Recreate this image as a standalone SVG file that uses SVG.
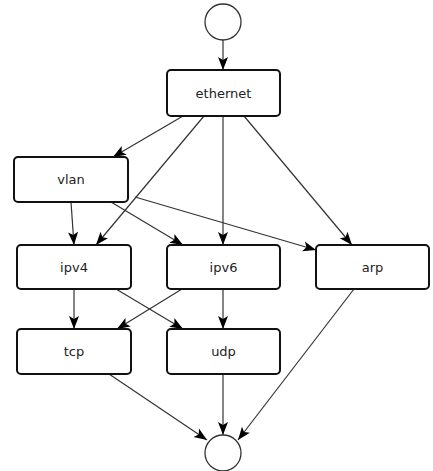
<svg xmlns="http://www.w3.org/2000/svg" width="433" height="471" viewBox="0 0 433 471">
<defs>
<style>
.node rect{fill:#fff;stroke:#111;stroke-width:2}
.node circle{fill:#fff;stroke:#333;stroke-width:1.3}
.node text{font-family:"DejaVu Sans",sans-serif;font-size:13px;fill:#222;text-anchor:middle}
.edges path{fill:none;stroke:#333;stroke-width:1.2;marker-end:url(#arr)}
</style>
<marker id="arr" markerUnits="userSpaceOnUse" markerWidth="14" markerHeight="12" viewBox="0 0 14 12" refX="13" refY="6" orient="auto">
<path d="M0,1 L13,6 L0,11 L3,6 z" fill="#000"/>
</marker>
</defs>
<g class="edges" id="edges">
<path d="M223,40 L223,70"/>
<path d="M183,116 L113,157"/>
<path d="M204,116 L96,245"/>
<path d="M223,116 L223,245"/>
<path d="M244,116 L352,245"/>
<path d="M71,202 L74,245"/>
<path d="M111,202 L183,245"/>
<path d="M135,197 L316,250"/>
<path d="M74,289 L74,329"/>
<path d="M116,289 L183,329"/>
<path d="M182,289 L117,329"/>
<path d="M223,289 L223,329"/>
<path d="M109,374 L207,440"/>
<path d="M223,374 L223,435"/>
<path d="M354,289 L238,440"/>
</g>
<g class="node" id="start"><circle cx="223" cy="22" r="18"/></g>
<g class="node" id="ethernet"><rect x="167" y="70" width="113" height="46" rx="4"/><text x="223.5" y="97.5">ethernet</text></g>
<g class="node" id="vlan"><rect x="14" y="157" width="114" height="45" rx="4"/><text x="71" y="184">vlan</text></g>
<g class="node" id="ipv4"><rect x="17" y="245" width="114" height="44" rx="4"/><text x="74" y="271.5">ipv4</text></g>
<g class="node" id="ipv6"><rect x="167" y="245" width="113" height="44" rx="4"/><text x="223.5" y="271.5">ipv6</text></g>
<g class="node" id="arp"><rect x="316" y="245" width="113" height="44" rx="4"/><text x="372.5" y="271.5">arp</text></g>
<g class="node" id="tcp"><rect x="17" y="329" width="114" height="45" rx="4"/><text x="74" y="356">tcp</text></g>
<g class="node" id="udp"><rect x="167" y="329" width="113" height="45" rx="4"/><text x="223.5" y="356">udp</text></g>
<g class="node" id="end"><circle cx="223" cy="453" r="18"/></g>
</svg>
